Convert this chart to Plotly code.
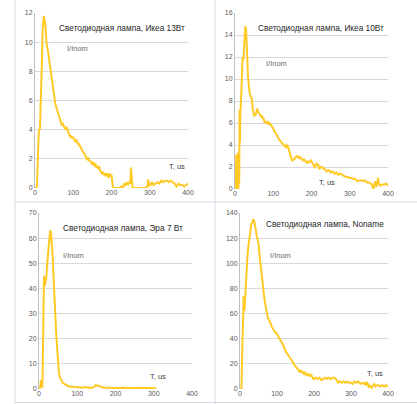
import plotly.graph_objects as go

W, H = 417, 404

# ---- data ----
ikea13_t = [0, 5, 8, 10, 13, 15, 18, 20, 23, 25, 27, 30, 33, 35, 38, 40, 43, 45, 48, 50, 53, 55, 58, 60, 63, 65,
            68, 70, 73, 75, 78, 80, 83, 85, 88, 90, 93, 95, 98, 100, 103, 105, 108, 110, 113, 115, 118, 120,
            123, 125, 128, 130, 133, 135, 138, 140, 143, 145, 148, 150, 153, 155, 158, 160, 163, 165, 168,
            170, 173, 175, 178, 180, 183, 185, 188, 190, 193, 195, 198, 200, 202, 204, 210, 220, 226, 230,
            233, 236, 240, 243, 246, 249, 251, 253, 255, 258, 262, 270, 280, 290, 294, 296, 298, 300, 303,
            306, 310, 315, 320, 325, 330, 335, 340, 345, 350, 355, 360, 365, 370, 375, 380, 385, 390, 395, 400]
ikea13_v = [0, 0, 2.5, 3.9, 4.1, 5.5, 8.5, 10.8, 11.8, 11.6, 11.2, 10.0, 9.6, 9.2, 8.6, 8.2, 7.6, 7.2, 6.6, 6.2,
            5.8, 5.6, 5.3, 5.1, 4.9, 4.6, 4.5, 4.3, 4.4, 4.2, 4.1, 4.0, 4.2, 4.0, 3.7, 3.6, 3.5, 3.6, 3.4, 3.5,
            3.3, 3.2, 3.3, 3.1, 3.0, 3.0, 2.8, 2.7, 2.6, 2.5, 2.4, 2.3, 2.1, 2.0, 2.1, 1.9, 1.9, 1.8, 1.7,
            1.8, 1.6, 1.5, 1.7, 1.4, 1.5, 1.3, 1.5, 1.2, 1.1, 1.0, 1.1, 0.9, 1.0, 0.8, 1.0, 0.9, 0.7, 1.0,
            0.8, 0.9, 0.2, 0.0, 0.0, 0.0, 0.1, 0.0, 0.3, 0.2, 0.4, 0.2, 0.4, 0.3, 1.4, 0.4, 0.0, 0.0, 0.0,
            0.0, 0.0, 0.0, 0.1, 0.6, 0.1, 0.3, 0.2, 0.4, 0.2, 0.3, 0.4, 0.3, 0.5, 0.4, 0.5, 0.5, 0.4, 0.5,
            0.4, 0.3, 0.1, 0.3, 0.2, 0.2, 0.1, 0.2, 0.3]

ikea10_t = [0, 2, 3, 4, 5, 6, 7, 8, 9, 10, 11, 12, 13, 14, 15, 17, 19, 20, 22, 24, 26, 27, 29, 30, 32, 34, 36,
            38, 40, 42, 44, 46, 48, 50, 52, 54, 56, 58, 60, 63, 65, 68, 70, 72, 74, 76, 78, 80, 82, 85, 88,
            90, 93, 95, 98, 100, 103, 105, 108, 110, 113, 115, 118, 120, 123, 125, 128, 130, 133, 135, 138,
            140, 143, 145, 148, 150, 153, 155, 158, 160, 163, 165, 168, 170, 173, 175, 178, 180, 183, 185,
            188, 190, 193, 195, 198, 200, 203, 205, 208, 210, 213, 215, 218, 220, 223, 225, 228, 230, 233,
            235, 238, 240, 243, 245, 248, 250, 253, 255, 258, 260, 265, 270, 275, 280, 285, 290, 295, 300,
            305, 310, 315, 320, 325, 330, 335, 340, 345, 350, 355, 358, 360, 362, 364, 366, 368, 370, 372,
            374, 376, 378, 380, 385, 390, 395, 400]
ikea10_v = [0, 0, 3.1, 0, 0, 2.5, 3.3, 0.2, 0, 3.0, 0.5, 7.2, 4.2, 7.0, 7.4, 10.2, 11.8, 12.0, 11.7, 12.6, 14.2,
            14.8, 14.5, 13.0, 12.0, 10.2, 9.3, 8.8, 8.5, 8.4, 8.2, 7.4, 7.1, 6.6, 6.8, 6.7, 7.0, 7.3, 7.1,
            6.9, 6.7, 6.6, 6.7, 6.4, 6.5, 6.2, 6.0, 6.1, 6.0, 6.1, 5.9, 6.0, 5.8, 5.7, 5.6, 5.5, 5.2, 5.1,
            5.0, 4.8, 4.6, 4.5, 4.4, 4.3, 4.2, 4.1, 4.0, 3.9, 3.8, 4.0, 3.9, 3.6, 3.3, 3.1, 2.7, 2.6, 2.7,
            2.7, 2.9, 2.9, 3.0, 2.9, 2.8, 2.9, 2.8, 2.7, 2.6, 2.7, 2.5, 2.5, 2.4, 2.5, 2.4, 2.5, 2.6, 2.5,
            2.3, 2.3, 2.0, 2.1, 2.3, 2.2, 2.2, 1.8, 1.9, 2.0, 2.0, 1.9, 1.8, 1.8, 1.7, 1.6, 1.7, 1.7, 1.6,
            1.5, 1.6, 1.6, 1.5, 1.4, 1.5, 1.3, 1.4, 1.3, 1.2, 1.1, 1.1, 1.0, 1.0, 0.9, 0.9, 0.7, 0.8, 0.8,
            0.7, 0.8, 0.6, 0.6, 0.5, 0.4, 0.2, 0.0, 0.3, 0.7, 0.4, 0.2, 0.6, 1.0, 0.5, 0.4, 0.3, 0.4, 0.4,
            0.5, 0.3, 0.4]

era7_t = [0, 3, 5, 7, 9, 11, 13, 15, 17, 19, 21, 23, 25, 27, 29, 31, 33, 35, 37, 39, 41, 43, 45, 48, 50, 52,
          55, 58, 62, 66, 70, 75, 80, 85, 90, 95, 100, 105, 110, 115, 120, 125, 130, 135, 140, 145, 148,
          152, 156, 160, 165, 170, 180, 190, 200, 210, 220, 230, 240, 250, 260, 270, 280, 290, 300, 307]
era7_v = [0, 0.2, 3.5, 3.2, 0.5, 20, 45, 41, 42, 44, 49, 53, 58, 61, 63, 62.5, 60, 55, 48, 40, 32, 27, 22, 15,
          10, 6.5, 4.5, 3.3, 2.5, 2.0, 1.6, 1.3, 1.0, 0.9, 0.8, 0.7, 0.6, 0.5, 0.6, 0.5, 0.8, 0.6, 0.5, 0.6,
          0.5, 1.0, 1.6, 1.4, 1.2, 0.8, 0.7, 0.5, 0.5, 0.4, 0.5, 0.4, 0.5, 0.4, 0.5, 0.4, 0.5, 0.4, 0.4,
          0.5, 0.4, 0.3]

noname_t = [0, 4, 6, 8, 10, 12, 14, 17, 20, 22, 24, 26, 28, 30, 32, 34, 36, 38, 40, 42, 45, 48, 50, 53, 55,
            58, 60, 63, 65, 68, 70, 73, 75, 78, 80, 83, 85, 88, 90, 93, 95, 98, 100, 103, 105, 108, 110,
            113, 115, 118, 120, 123, 125, 128, 130, 133, 135, 138, 140, 143, 145, 148, 150, 153, 155, 158,
            160, 163, 165, 168, 170, 173, 175, 178, 180, 183, 185, 188, 190, 193, 195, 198, 200, 205, 210,
            215, 220, 225, 230, 235, 240, 245, 250, 255, 258, 262, 265, 270, 275, 280, 285, 290, 295, 300,
            305, 310, 315, 320, 325, 330, 335, 338, 340, 343, 346, 348, 350, 353, 356, 360, 363, 366, 370,
            375, 380, 385, 390, 395, 400]
noname_v = [0, 0, 30, 55, 74, 62, 75, 90, 105, 112, 118, 124, 128, 130, 132, 134, 135, 134, 132, 128, 122, 119,
            116, 106, 100, 94, 88, 80, 74, 68, 64, 60, 57, 55, 54, 52, 50, 48, 47, 46, 45, 44, 44, 42, 41,
            40, 39, 38, 36, 34, 32, 30, 29, 28, 27, 26, 25, 24, 22, 21, 20, 19, 18, 17, 16, 15, 14, 15, 13,
            14, 13, 12, 13, 11, 11, 12, 11, 12, 10, 11, 9, 8, 8, 9, 8, 9, 7, 8, 9, 8, 9, 8, 9, 9, 8, 7, 5, 6,
            5, 6, 5, 6, 5, 5, 4, 6, 5, 6, 4, 5, 4, 5, 3, 5, 4, 1, 3, 2, 1, 3, 4, 2, 3, 3, 2, 3, 2, 3, 2]

titles = ["Светодиодная лампа, Икеа 13Вт", "Светодиодная лампа, Икеа 10Вт",
          "Светодиодная лампа, Эра 7 Вт", "Светодиодная лампа, Noname"]
y_ranges = [12, 16, 70, 140]
y_dticks = [2, 2, 10, 20]
x_ticks = [0, 100, 200, 300, 400]

series = [(ikea13_t, ikea13_v), (ikea10_t, ikea10_v), (era7_t, era7_v), (noname_t, noname_v)]

# pixel boxes of plot areas (left, right, top, bottom)
boxes = [(35, 188, 13, 188), (235, 388, 13, 189), (39, 192, 213, 389), (240, 388, 213, 389)]
# label positions in data units: title(x,y), I/Inom(x,y), T,us(x,y)
label_pos = [
    ((57, 11.0), (78, 9.6), (345, 1.45)),
    ((55, 14.6), (76, 11.4), (214, 0.55)),
    ((57, 64), (57, 52.9), (285, 4.8)),
    ((64, 131), (76, 106.5), (338, 12.7)),
]

fig = go.Figure()
layout = dict(width=W, height=H, margin=dict(l=0, r=0, t=0, b=0, autoexpand=False),
              paper_bgcolor="white", plot_bgcolor="white", showlegend=False,
              font=dict(family="Liberation Sans, Arial, sans-serif"))
annotations = []
LINE = "#FFC926"
for i, ((t, v), (l, r, tp, bt)) in enumerate(zip(series, boxes)):
    k = "" if i == 0 else str(i + 1)
    fig.add_trace(go.Scatter(x=t, y=v, mode="lines", line=dict(color=LINE, width=2),
                             xaxis="x" + k, yaxis="y" + k, hoverinfo="skip"))
    layout["xaxis" + k] = dict(domain=[l / W, r / W], range=[0, 400], tickvals=x_ticks,
                               showgrid=False, zeroline=False, showline=False, automargin=False,
                               ticks="", ticklabelstandoff=-1, tickfont=dict(size=7, color="#595959"),
                               anchor="y" + k, fixedrange=True)
    layout["yaxis" + k] = dict(domain=[1 - bt / H, 1 - tp / H], range=[0, y_ranges[i]],
                               dtick=y_dticks[i], tick0=0, showgrid=True, gridcolor="#d9d9d9",
                               gridwidth=1, zeroline=False, showline=True, linecolor="#bfbfbf",
                               automargin=False, ticks="", tickfont=dict(size=7, color="#595959"),
                               anchor="x" + k, fixedrange=True)
    (tx, ty), (ix, iy), (ux, uy) = label_pos[i]
    annotations.append(dict(x=tx, y=ty, xref="x" + k, yref="y" + k, text=titles[i], showarrow=False,
                            xanchor="left", yanchor="middle", font=dict(size=8.3, color="#262626")))
    annotations.append(dict(x=ix, y=iy, xref="x" + k, yref="y" + k, text="I/Inom", showarrow=False,
                            xanchor="left", yanchor="middle", font=dict(size=7.5, color="#6b6b6b")))
    annotations.append(dict(x=ux, y=uy, xref="x" + k, yref="y" + k, text="T, us", showarrow=False,
                            xanchor="left", yanchor="middle", font=dict(size=7.5, color="#404040")))

BC = "#d5dde7"
shapes = [
    dict(type="line", xref="paper", yref="paper", x0=15 / W, x1=15 / W, y0=0, y1=1, line=dict(color=BC, width=1)),
    dict(type="line", xref="paper", yref="paper", x0=215 / W, x1=215 / W, y0=0, y1=1, line=dict(color=BC, width=1)),
    dict(type="line", xref="paper", yref="paper", x0=15 / W, x1=1, y0=1 - 202 / H, y1=1 - 202 / H, line=dict(color=BC, width=1)),
    dict(type="line", xref="paper", yref="paper", x0=15 / W, x1=1, y0=1 - 402.5 / H, y1=1 - 402.5 / H, line=dict(color=BC, width=1)),
]
layout["annotations"] = annotations
layout["shapes"] = shapes
fig.update_layout(**layout)
fig.write_html("out.html", config={"displayModeBar": False},
               post_script="document.body.style.margin='0';document.body.style.padding='0';"
                           "document.body.style.overflow='hidden';")
